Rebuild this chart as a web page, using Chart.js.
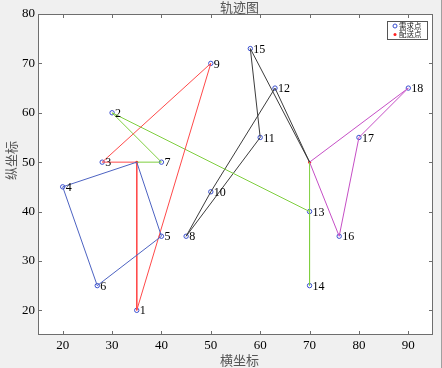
<!DOCTYPE html>
<html>
<head>
<meta charset="utf-8">
<script src="https://cdn.jsdelivr.net/npm/chart.js@4.4.0/dist/chart.umd.min.js"></script>
<style>
  html, body { margin: 0; padding: 0; background: #f0f0f0; }
  canvas { display: block; }
</style>
</head>
<body>
<canvas id="chart" width="442" height="368"></canvas>
<script>
// demand points (需求点), numbered 1..18
const pointIds = [1, 2, 3, 4, 5, 6, 7, 8, 9, 10, 11, 12, 13, 14, 15, 16, 17, 18];
const pointX = [35, 30, 28, 20, 40, 27, 40, 45, 50, 50, 60, 63, 70, 70, 58, 76, 80, 90];
const pointY = [20, 60, 50, 45, 35, 25, 50, 35, 70, 44, 55, 65, 40, 25, 73, 35, 55, 65];

// distribution points (配送点)
const depotNames = ["A", "B"];
const depotX = [35, 70];
const depotY = [50, 50];

// routes, as stop sequences
const routeBlue = ["A", 4, 6, 5, "A"];
const routeRed = ["A", 1, 9, 3, "A"];
const routeGreen = ["A", 7, 2, 13, 14, "B"];
const routeGray = ["B", 12, 10, 8, 11, 15, "B"];
const routePurple = ["B", 18, 17, 16, "B"];

const xTicks = [20, 30, 40, 50, 60, 70, 80, 90];
const yTicks = [20, 30, 40, 50, 60, 70, 80];

function stopXY(s) {
    if (typeof s === "string") {
        const i = depotNames.indexOf(s);
        return { x: depotX[i], y: depotY[i] };
    }
    const i = pointIds.indexOf(s);
    return { x: pointX[i], y: pointY[i] };
}

function routeSet(stops, color) {
    return {
        data: stops.map(stopXY),
        showLine: true,
        borderColor: color,
        borderWidth: 1,
        pointRadius: 0,
        pointHoverRadius: 0,
        fill: false
    };
}

const serif = "'Liberation Serif', 'Times New Roman', serif";
const cjk = "'Noto Sans CJK SC', sans-serif";

const framePlugin = {
    id: "frame",
    beforeDraw(chart) {
        const { ctx, chartArea: a } = chart;
        ctx.save();
        ctx.fillStyle = "#ffffff";
        ctx.fillRect(a.left, a.top, a.right - a.left, a.bottom - a.top);
        ctx.restore();
    },
    afterDraw(chart) {
        const { ctx, chartArea: a, scales } = chart;
        ctx.save();
        // box
        ctx.strokeStyle = "#6e6e6e";
        ctx.lineWidth = 1;
        ctx.strokeRect(a.left + 0.5, a.top + 0.5, a.right - a.left - 1, a.bottom - a.top - 1);
        // inward ticks on all four sides
        const tl = 4;
        ctx.beginPath();
        xTicks.forEach(v => {
            const px = Math.round(scales.x.getPixelForValue(v)) + 0.5;
            ctx.moveTo(px, a.bottom); ctx.lineTo(px, a.bottom - tl);
            ctx.moveTo(px, a.top); ctx.lineTo(px, a.top + tl);
        });
        yTicks.forEach(v => {
            const py = Math.round(scales.y.getPixelForValue(v)) + 0.5;
            ctx.moveTo(a.left, py); ctx.lineTo(a.left + tl, py);
            ctx.moveTo(a.right, py); ctx.lineTo(a.right - tl, py);
        });
        ctx.stroke();

        // point number labels
        ctx.fillStyle = "#000";
        ctx.font = "12px " + serif;
        ctx.textAlign = "left";
        ctx.textBaseline = "middle";
        pointIds.forEach((id, i) => {
            const px = scales.x.getPixelForValue(pointX[i]);
            const py = scales.y.getPixelForValue(pointY[i]);
            ctx.fillText(String(id), px + 3, py + 1);
        });

        // titles
        ctx.fillStyle = "#555";
        ctx.font = "13px " + cjk;
        ctx.textAlign = "center";
        ctx.fillText("轨迹图", (a.left + a.right) / 2 + 4, 7);
        ctx.fillText("横坐标", (a.left + a.right) / 2 + 4, 360);
        ctx.save();
        ctx.translate(11, (a.top + a.bottom) / 2 - 14);
        ctx.rotate(-Math.PI / 2);
        ctx.fillText("纵坐标", 0, 0);
        ctx.restore();

        // legend
        const lx = 387, ly = 21, lw = 40, lh = 18;
        ctx.fillStyle = "#fff";
        ctx.fillRect(lx, ly, lw, lh);
        ctx.strokeStyle = "#555";
        ctx.strokeRect(lx + 0.5, ly + 0.5, lw, lh);
        ctx.strokeStyle = "#3a4fd0";
        ctx.beginPath();
        ctx.arc(lx + 8, ly + 5, 2, 0, Math.PI * 2);
        ctx.stroke();
        ctx.fillStyle = "#ff2020";
        ctx.beginPath();
        ctx.arc(lx + 8, ly + 13.5, 1.5, 0, Math.PI * 2);
        ctx.fill();
        ctx.fillStyle = "#222";
        ctx.font = "7.5px " + cjk;
        ctx.textAlign = "left";
        ctx.fillText("需求点", lx + 12, ly + 5);
        ctx.fillText("配送点", lx + 12, ly + 13.5);

        // outer figure edge
        ctx.strokeStyle = "#a0a0a0";
        ctx.beginPath();
        ctx.moveTo(441.5, 0); ctx.lineTo(441.5, 368);
        ctx.stroke();
        ctx.restore();
    }
};

new Chart(document.getElementById("chart"), {
    type: "scatter",
    data: {
        datasets: [
            routeSet(routeBlue, "#4d63c2"),
            routeSet(routeRed, "#ff4a4a"),
            routeSet(routeGreen, "#7fcf3f"),
            routeSet(routeGray, "#3c3c3c"),
            routeSet(routePurple, "#c64fc6"),
            {
                data: pointX.map((x, i) => ({ x, y: pointY[i] })),
                pointStyle: "circle",
                pointRadius: 2.2,
                pointBorderWidth: 1,
                pointBorderColor: "#3a4fd0",
                pointBackgroundColor: "rgba(0,0,0,0)",
                showLine: false
            },
            {
                data: depotX.map((x, i) => ({ x, y: depotY[i] })),
                pointStyle: "circle",
                pointRadius: 1.5,
                pointBorderWidth: 0,
                pointBackgroundColor: "#ff2020",
                showLine: false
            }
        ]
    },
    options: {
        responsive: false,
        maintainAspectRatio: false,
        animation: false,
        layout: { padding: { left: 0, right: 9, top: 14, bottom: 0 } },
        plugins: {
            legend: { display: false },
            title: { display: false },
            tooltip: { enabled: false }
        },
        scales: {
            x: {
                type: "linear",
                min: 15,
                max: 95,
                grid: { display: false, drawTicks: false },
                border: { display: false },
                afterBuildTicks: s => { s.ticks = xTicks.map(v => ({ value: v })); },
                afterFit: s => { s.height = 33; },
                ticks: {
                    padding: 3,
                    color: "#000",
                    maxRotation: 0,
                    font: { family: serif, size: 13 }
                }
            },
            y: {
                type: "linear",
                min: 15,
                max: 80,
                grid: { display: false, drawTicks: false },
                border: { display: false },
                afterBuildTicks: s => { s.ticks = yTicks.map(v => ({ value: v })); },
                afterFit: s => { s.width = 38; },
                ticks: {
                    padding: 3,
                    color: "#000",
                    font: { family: serif, size: 13 }
                }
            }
        }
    },
    plugins: [framePlugin]
});
</script>
</body>
</html>
